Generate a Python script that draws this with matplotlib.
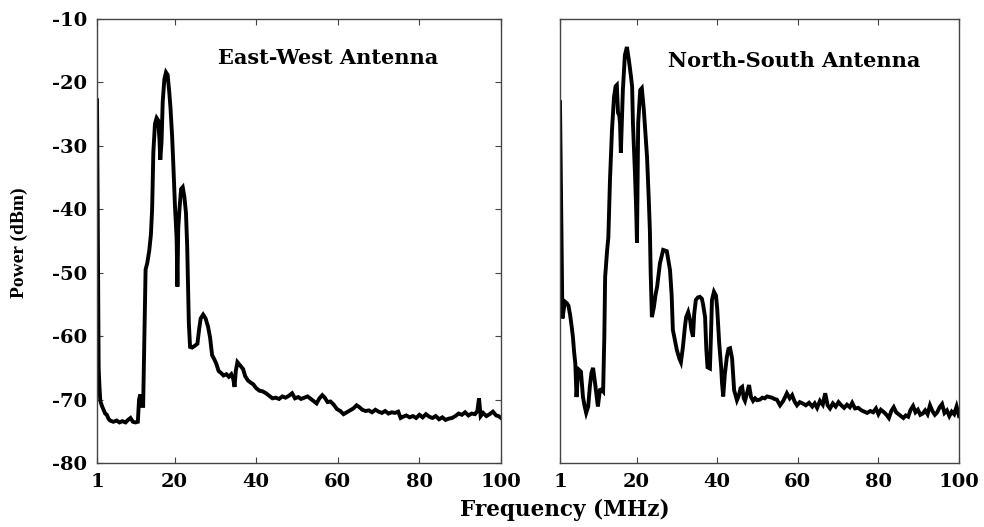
import matplotlib
matplotlib.use("Agg")
import matplotlib.pyplot as plt

# Frequency (MHz) / power (dBm)
ew_freq = [1.0, 1.2, 1.4, 1.6, 1.8, 2.2, 2.6, 3.0, 3.4, 3.8, 4.2, 5.0, 5.8, 6.5, 7.2, 8.0,
           8.6, 9.2, 9.8, 10.4, 11.0, 11.3, 11.6, 12.0, 12.3, 12.6, 12.9, 13.3, 13.8, 14.2,
           14.5, 14.8, 15.2, 15.6, 16.0, 16.3, 16.5, 16.8, 17.1, 17.5, 17.9, 18.3, 18.7,
           19.0, 19.4, 19.7, 20.1, 20.5, 20.7, 20.9, 21.2, 21.6, 22.0, 22.4, 22.8, 23.1,
           23.3, 23.5, 23.8, 24.3, 25.0, 25.6, 26.0, 26.4, 27.0, 27.6, 28.2, 28.7, 29.2,
           29.7, 30.2, 30.8, 31.4, 32.0, 32.7, 33.3, 33.9, 34.4, 34.7, 35.0, 35.4, 35.8,
           36.3, 36.8, 37.3, 38.0, 38.6, 39.3, 40.0, 40.8, 41.6, 42.4, 43.2, 44.0, 44.8,
           45.6, 46.4, 47.2, 48.0, 48.8, 49.5, 50.3, 51.0, 51.8, 52.6, 53.4, 54.2, 54.8,
           55.5, 56.2, 56.8, 57.5, 58.2, 59.0, 59.8, 60.6, 61.4, 62.2, 63.0, 63.8, 64.6,
           65.3, 66.0, 66.8, 67.6, 68.4, 69.2, 70.0, 70.8, 71.6, 72.4, 73.2, 74.0, 74.8,
           75.4, 76.0, 76.8, 77.6, 78.4, 79.2, 80.0, 80.8, 81.6, 82.4, 83.2, 84.0, 84.8,
           85.6, 86.4, 87.2, 88.0, 88.8, 89.6, 90.4, 91.2, 92.0, 92.8, 93.6, 94.2, 94.6,
           95.0, 95.6, 96.4, 97.2, 98.0, 98.8, 99.4, 100.0]
ew_power = [-22.8, -45, -65, -68, -70.2, -71, -71.6, -72.2, -72.4, -73, -73.3, -73.5, -73.3,
            -73.6, -73.4, -73.6, -73.2, -72.9, -73.5, -73.6, -73.5, -70, -69.2, -71, -71,
            -60, -49.5, -48.5, -46.5, -44, -40, -31, -26.5, -25.6, -26, -29, -32.2, -29.5,
            -23, -19.5, -18.4, -18.8, -21.5, -24, -28.5, -33, -39.5, -44.5, -52.2, -43,
            -40, -36.8, -36.5, -38, -40.6, -46, -52, -58, -61.7, -61.8, -61.5, -61.2, -59,
            -57.2, -56.6, -57.2, -58.5, -60.2, -63, -63.6, -64.3, -65.5, -65.8, -66.2, -66,
            -66.4, -66, -66.8, -68, -65.5, -64.1, -64.4, -64.8, -65.2, -66.3, -67, -67.3,
            -67.6, -68.2, -68.6, -68.7, -69, -69.4, -69.8, -69.7, -69.9, -69.5, -69.7,
            -69.4, -69.0, -69.8, -69.6, -69.9, -69.7, -69.5, -69.9, -70.3, -70.6, -69.8,
            -69.3, -69.7, -70.4, -70.3, -70.8, -71.5, -71.8, -72.3, -72.0, -71.7, -71.4,
            -70.9, -71.2, -71.6, -71.8, -71.7, -72, -71.6, -71.9, -72.1, -71.8, -72.2,
            -72.0, -72.1, -71.9, -72.9, -72.7, -72.5, -72.8, -72.6, -72.9, -72.4, -72.8,
            -72.3, -72.7, -72.9, -72.6, -73.1, -72.8, -73.2, -73.0, -72.9, -72.6, -72.2,
            -72.4, -72.0, -72.5, -72.2, -72.3, -71.8, -69.8, -72.6, -72.1, -72.6, -72.3,
            -71.9, -72.5, -72.6, -72.9]

ns_freq = [1.0, 1.3, 1.6, 2.0, 2.3, 2.7, 3.1, 3.5, 3.9, 4.2, 4.5, 4.8, 5.1, 5.4, 5.7, 6.2,
           6.7, 7.1, 7.5, 8.0, 8.4, 8.8, 9.2, 9.7, 10.1, 10.4, 10.9, 11.3, 11.7, 12.0, 12.2,
           12.7, 13.0, 13.4, 13.9, 14.4, 14.8, 15.1, 15.4, 15.7, 15.9, 16.1, 16.4, 16.6,
           17.1, 17.6, 18.1, 18.6, 18.9, 19.1, 19.6, 19.9, 20.1, 20.4, 20.9, 21.3, 21.8,
           22.2, 22.6, 23.0, 23.3, 23.5, 23.8, 24.3, 24.7, 25.1, 25.8, 26.6, 27.5, 28.3,
           28.7, 29.0, 30.0, 30.6, 31.0, 31.5, 32.0, 32.3, 32.8, 33.3, 33.6, 34.0, 34.3,
           34.7, 35.2, 35.7, 36.2, 36.5, 37.0, 37.3, 37.6, 38.2, 38.5, 38.7, 39.2, 39.7,
           40.0, 40.5, 41.0, 41.2, 41.5, 41.9, 42.4, 42.8, 43.2, 43.7, 44.2, 44.6, 44.9,
           45.4, 45.8, 46.2, 46.6, 46.9, 47.4, 47.9, 48.4, 48.9, 49.4, 49.9, 50.6, 51.2,
           51.8, 52.4, 53.0, 53.6, 54.2, 54.8, 55.6, 56.4, 57.3, 58.0, 58.6, 59.2, 59.8,
           60.5, 61.2, 62.0, 62.8, 63.6, 64.2, 64.8, 65.5, 66.2, 66.8, 67.4, 68.0, 68.7,
           69.4, 70.1, 70.8, 71.5, 72.2, 72.9, 73.5, 74.2, 75.0, 75.8, 76.5, 77.2, 78.0,
           78.7, 79.4, 80.0, 80.6, 81.4, 82.0, 82.6, 83.2, 83.8, 84.4, 85.0, 85.6, 86.2,
           86.8, 87.4, 88.0, 88.6, 89.2, 89.8, 90.4, 91.0, 91.6, 92.2, 92.8, 93.4, 94.0,
           94.6, 95.2, 95.8, 96.4, 97.0, 97.6, 98.2, 98.8, 99.4, 100.0]
ns_power = [-23.1, -40, -57.2, -55.5, -54.6, -54.8, -55.2, -56.6, -58.5, -60.1, -62.5, -64.3,
            -69.6, -66.5, -65.3, -65.6, -69.6, -71, -72.1, -71.1, -68, -65.8, -65, -67.4,
            -69.5, -71.1, -68.5, -68.4, -68.7, -60, -50.7, -46.4, -44.4, -35.4, -27.5,
            -22.3, -20.6, -20.4, -24.8, -25.2, -26.5, -31.1, -25, -21.2, -15.7, -14.4,
            -16.5, -19, -20.7, -26.4, -34.3, -40, -45.3, -26.4, -21.2, -20.9, -24.3, -28,
            -31.8, -38, -43.3, -50, -57, -55.4, -53.5, -52.2, -48.5, -46.4, -46.6, -49.6,
            -53.5, -59, -62.2, -63.5, -64.1, -61.7, -58.5, -57, -56.2, -57.5, -59, -60.1,
            -56.5, -54.3, -53.9, -53.8, -54.1, -55, -57, -62, -64.9, -65.1, -59, -54.3, -53,
            -53.6, -55.6, -61.1, -65, -67.4, -69.5, -66, -63.3, -62, -61.9, -63.5, -68.5,
            -69.4, -70.1, -69.3, -68.2, -68, -69.8, -70.2, -69, -67.7, -69.6, -70.2, -69.8,
            -70.1, -70.0, -69.7, -69.8, -69.5, -69.6, -69.7, -69.9, -70.0, -70.9, -70.2,
            -69.0, -69.8, -69.3, -70.3, -70.9, -70.4, -70.6, -70.9, -70.5, -71.1, -70.6,
            -71.3, -70.2, -70.8, -69.0, -70.9, -71.4, -70.6, -71.1, -70.4, -70.9, -71.3,
            -70.8, -71.2, -70.5, -71.4, -71.3, -71.7, -71.9, -72.1, -71.8, -72.0, -71.4,
            -72.3, -71.6, -72.0, -72.4, -72.9, -71.8, -71.2, -72.0, -72.3, -72.6, -72.9,
            -72.5, -72.7, -71.6, -71.0, -72.0, -71.6, -72.4, -72.2, -71.7, -72.3, -70.9,
            -71.8, -72.4, -72.0, -71.2, -70.7, -72.1, -71.7, -72.6, -71.9, -72.3, -71.1,
            -72.6]

x_ticks = [1, 20, 40, 60, 80, 100]
x_tick_labels = ["1", "20", "40", "60", "80", "100"]
y_ticks = [-10, -20, -30, -40, -50, -60, -70, -80]
titles = ["East-West Antenna", "North-South Antenna"]

plt.rcParams["axes.unicode_minus"] = False
tick_font = dict(family="DejaVu Serif", weight="bold", size=14)

fig = plt.figure(figsize=(9.84, 5.27), dpi=100)
ax1 = fig.add_axes([0.0986, 0.1214, 0.4106, 0.8425])
ax2 = fig.add_axes([0.5691, 0.1214, 0.4055, 0.8425])

for ax, f, p in [(ax1, ew_freq, ew_power), (ax2, ns_freq, ns_power)]:
    ax.plot(f, p, color="black", linewidth=2.8, solid_joinstyle="miter")
    ax.set_xlim(1, 100)
    ax.set_ylim(-80, -10)
    ax.set_xticks(x_ticks)
    ax.set_xticklabels(x_tick_labels, fontdict=tick_font)
    for s in ax.spines.values():
        s.set_color("#444444")
        s.set_linewidth(1.0)
    ax.tick_params(axis="x", direction="in", length=4, top=True, pad=7, color="#444444")

ax1.set_yticks(y_ticks)
ax1.set_yticklabels([str(v) for v in y_ticks], fontdict=tick_font)
ax1.tick_params(axis="y", direction="in", length=4, right=True, pad=7, color="#444444")
ax2.set_yticks([])

ax1.text(0.572, 0.912, titles[0], transform=ax1.transAxes, ha="center", va="center",
         family="DejaVu Serif", weight="bold", size=15)
ax2.text(0.586, 0.905, titles[1], transform=ax2.transAxes, ha="center", va="center",
         family="DejaVu Serif", weight="bold", size=15)

fig.text(0.02, 0.54, "Power (dBm)", rotation=90, ha="center", va="center",
         family="Liberation Serif", weight="bold", size=14)
fig.text(0.574, 0.032, "Frequency (MHz)", ha="center", va="center",
         family="DejaVu Serif", weight="bold", size=15.5)

fig.savefig("out.png", dpi=100)
